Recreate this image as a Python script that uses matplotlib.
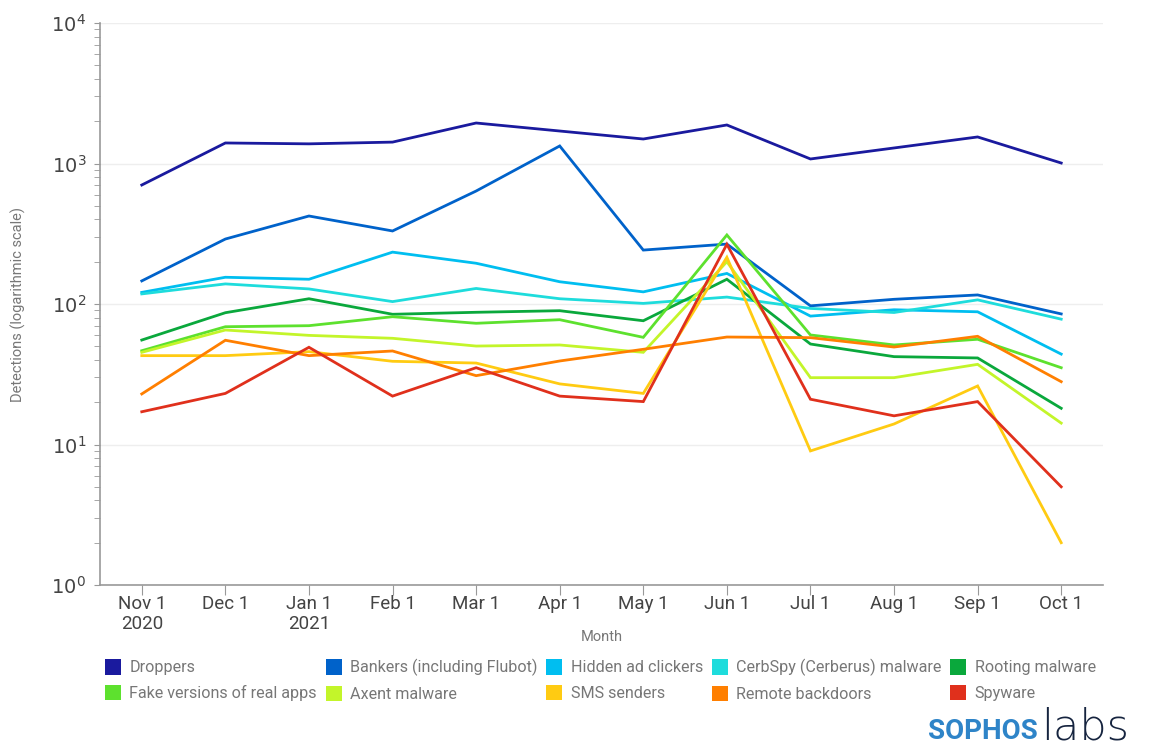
import matplotlib
matplotlib.use("Agg")
import matplotlib.pyplot as plt
from matplotlib.patches import Patch
from matplotlib.ticker import LogLocator, FixedLocator, NullFormatter

plt.rcParams['font.family'] = ['Roboto', 'DejaVu Sans']

months = ["Nov 1\n2020", "Dec 1", "Jan 1\n2021", "Feb 1", "Mar 1", "Apr 1",
          "May 1", "Jun 1", "Jul 1", "Aug 1", "Sep 1", "Oct 1"]

series_names = ["Droppers", "Bankers (including Flubot)", "Hidden ad clickers",
                "CerbSpy (Cerberus) malware", "Rooting malware",
                "Fake versions of real apps", "Axent malware", "SMS senders",
                "Remote backdoors", "Spyware"]

droppers = [703, 1400, 1380, 1420, 1942, 1703, 1494, 1880, 1077, 1290, 1545, 1008]
bankers = [146, 290, 423, 331, 637, 1333, 242, 267, 97, 108, 116, 85]
hidden_ad = [121, 155, 150, 234, 195, 144, 122, 165, 82, 91, 88, 44]
cerbspy = [118, 139, 128, 104, 129, 109, 101, 112, 93, 87, 107, 78]
rooting = [55.4, 86.7, 109, 84.5, 87.3, 89.6, 76, 150, 51.9, 42.2, 41.3, 18.1]
fake_apps = [46.5, 68.9, 70.1, 81.2, 72.9, 77.3, 57.9, 310, 60.2, 51.1, 56.1, 35.2]
axent = [45.3, 65.3, 59.8, 57.0, 50.2, 51.1, 45.3, 200, 29.9, 29.9, 37.2, 14.2]
sms = [42.9, 42.9, 45.8, 39.1, 38.0, 27.0, 23.1, 215, 9.0, 14.0, 26.1, 2.0]
backdoors = [22.9, 55.2, 42.9, 46.3, 30.9, 39.3, 47.6, 58.2, 57.6, 49.4, 58.9, 28.0]
spyware = [17.1, 23.1, 49.2, 22.1, 35.2, 22.1, 20.2, 266, 21.0, 16.0, 20.2, 5.0]

all_series = [droppers, bankers, hidden_ad, cerbspy, rooting,
              fake_apps, axent, sms, backdoors, spyware]
colors = ["#1A1A9E", "#0062CA", "#00BEF0", "#1EDCDC", "#0AA83C",
          "#5DE12E", "#C3F52A", "#FFCB12", "#FF7F00", "#E0301C"]

fig = plt.figure(figsize=(11.51, 7.47), dpi=100)
ax = fig.add_axes([100/1151, 1-585/747, (1103-100)/1151, (585-23)/747])

x = list(range(len(months)))
for vals, c, name in zip(all_series, colors, series_names):
    ax.plot(x, vals, color=c, lw=2.0, label=name, solid_joinstyle='miter')

ax.set_yscale('log')
ax.set_ylim(1, 1e4)
ax.set_xlim(-0.5, 11.5)
ax.set_xticks(x)
ax.set_xticklabels(months, fontsize=13.5, color="#444444", linespacing=1.15)
ax.yaxis.set_major_locator(FixedLocator([1, 10, 100, 1000, 10000]))
ax.set_yticklabels([r"$10^{0}$", r"$10^{1}$", r"$10^{2}$", r"$10^{3}$", r"$10^{4}$"],
                   fontsize=14, color="#444444")
ax.yaxis.set_minor_locator(LogLocator(base=10, subs=range(2, 10)))
ax.yaxis.set_minor_formatter(NullFormatter())

ax.grid(axis='y', which='major', color="#EEEEEE", lw=1)
ax.set_axisbelow(True)
for s in ["top", "right"]:
    ax.spines[s].set_visible(False)
for s in ["left", "bottom"]:
    ax.spines[s].set_color("#999999")
    ax.spines[s].set_linewidth(1.2)
ax.tick_params(axis='x', length=7, color="#999999", pad=0)
ax.tick_params(axis='y', which='major', length=4, color="#999999", pad=6)
ax.tick_params(axis='y', which='minor', length=4, color="#999999")

ax.set_xlabel("Month", fontsize=10.5, color="#777777")
ax.xaxis.set_label_coords(0.5, (585-637)/562)
ax.xaxis.label.set_va('center')
ax.set_ylabel("Detections (logarithmic scale)", fontsize=10.5, color="#777777")
ax.yaxis.set_label_coords((18-100)/1003, 0.5)
ax.yaxis.label.set_va('center')

# matplotlib fills legend columns first; reorder so entries read row by row
nrows, ncols = 2, 5
order = [r * ncols + c for c in range(ncols) for r in range(nrows)]
handles = [Patch(facecolor=colors[i], edgecolor='none') for i in order]
labels = [series_names[i] for i in order]
leg = fig.legend(handles, labels, ncol=ncols, loc='upper left',
                 bbox_to_anchor=(105/1151, 1-659/747), frameon=False,
                 fontsize=11.6, handlelength=1.0, handleheight=1.08,
                 handletextpad=0.5, columnspacing=0.56, labelspacing=0.6,
                 borderaxespad=0, borderpad=0)
for t in leg.get_texts():
    t.set_color("#777777")

fig.text(1038/1151, 1-739/747, "SOPHOS", fontsize=20, fontweight='bold',
         color="#2E84C8", ha='right', va='baseline')
fig.text(1041/1151, 1-739/747, "labs", fontsize=31, fontweight='light',
         family='DejaVu Sans', color="#16243F", ha='left', va='baseline')

fig.savefig("out.png", dpi=100, facecolor='white')
